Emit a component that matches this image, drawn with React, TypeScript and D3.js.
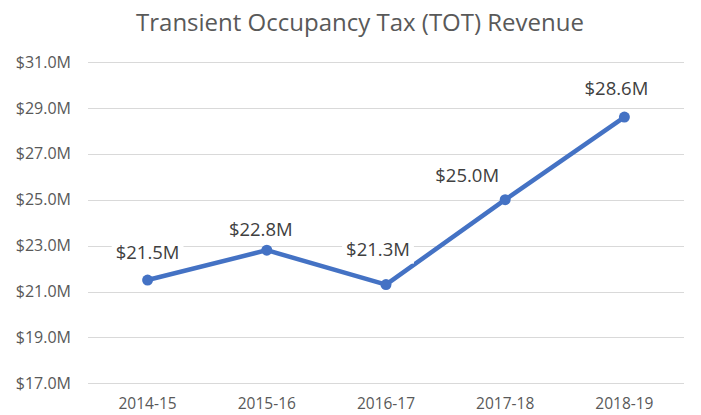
import React, { useEffect, useRef } from "react";
import * as d3 from "d3";

const categories = ["2014-15", "2015-16", "2016-17", "2017-18", "2018-19"];
const revenue = [21.5, 22.8, 21.3, 25.0, 28.6];
const yTicks = [17, 19, 21, 23, 25, 27, 29, 31];
const labelDx = [0, -6, -8, -38, -8];
const labelDy = [-21, -14, -29, -18, -22];

const W = 701;
const H = 415;
const FONT = "'Open Sans', 'Noto Sans', sans-serif";

export default function App() {
  const ref = useRef<SVGSVGElement>(null);
  useEffect(() => {
    const svg = d3.select(ref.current);
    svg.selectAll("*").remove();
    const x = d3.scalePoint<string>().domain(categories).range([88, 684]).padding(0.5);
    const y = d3.scaleLinear().domain([17, 31]).range([383.3, 62]);

    svg.append("rect").attr("width", W).attr("height", H).attr("fill", "#fff");

    svg.append("text")
      .attr("x", 360).attr("y", 31)
      .attr("text-anchor", "middle")
      .attr("font-family", FONT).attr("font-size", 24)
      .attr("fill", "#595959")
      .text("Transient Occupancy Tax (TOT) Revenue");

    const g = svg.append("g");
    g.selectAll("line.grid").data(yTicks).enter().append("line")
      .attr("x1", 88).attr("x2", 684)
      .attr("y1", (d) => Math.round(y(d)) + 0.5).attr("y2", (d) => Math.round(y(d)) + 0.5)
      .attr("stroke", "#d9d9d9").attr("stroke-width", 1);

    g.selectAll("text.ytick").data(yTicks).enter().append("text")
      .attr("x", 71).attr("y", (d) => y(d))
      .attr("dy", "0.35em")
      .attr("text-anchor", "end")
      .attr("font-family", FONT).attr("font-size", 16)
      .attr("fill", "#595959")
      .text((d) => "$" + d3.format(".1f")(d) + "M");

    g.selectAll("text.xtick").data(categories).enter().append("text")
      .attr("x", (d) => x(d)!).attr("y", 409)
      .attr("text-anchor", "middle")
      .attr("font-family", FONT).attr("font-size", 15.5)
      .attr("fill", "#595959")
      .text((d) => d);

    const line = d3.line<number>()
      .x((_, i) => x(categories[i])!)
      .y((d) => y(d));
    g.append("path").datum(revenue)
      .attr("d", line)
      .attr("fill", "none")
      .attr("stroke", "#4472C4")
      .attr("stroke-width", 4.5)
      .attr("stroke-linejoin", "round")
      .attr("stroke-linecap", "round");

    g.selectAll("circle").data(revenue).enter().append("circle")
      .attr("cx", (_, i) => x(categories[i])!)
      .attr("cy", (d) => y(d))
      .attr("r", 5.5)
      .attr("fill", "#4472C4");

    revenue.forEach((v, i) => {
      const lg = g.append("g");
      const rect = lg.append("rect").attr("fill", "#fff");
      const t = lg.append("text")
        .attr("x", x(categories[i])! + labelDx[i])
        .attr("y", y(v) + labelDy[i])
        .attr("text-anchor", "middle")
        .attr("font-family", FONT).attr("font-size", 18.5)
        .attr("fill", "#404040")
        .text("$" + d3.format(".1f")(v) + "M");
      const bb = (t.node() as SVGTextElement).getBBox();
      rect.attr("x", bb.x - 4).attr("y", bb.y + 1).attr("width", bb.width + 8).attr("height", bb.height + 2);
    });
  }, []);
  return (
    <svg
      ref={ref}
      width={W}
      height={H}
      style={{ position: "absolute", left: 0, top: 0, display: "block" }}
    />
  );
}
